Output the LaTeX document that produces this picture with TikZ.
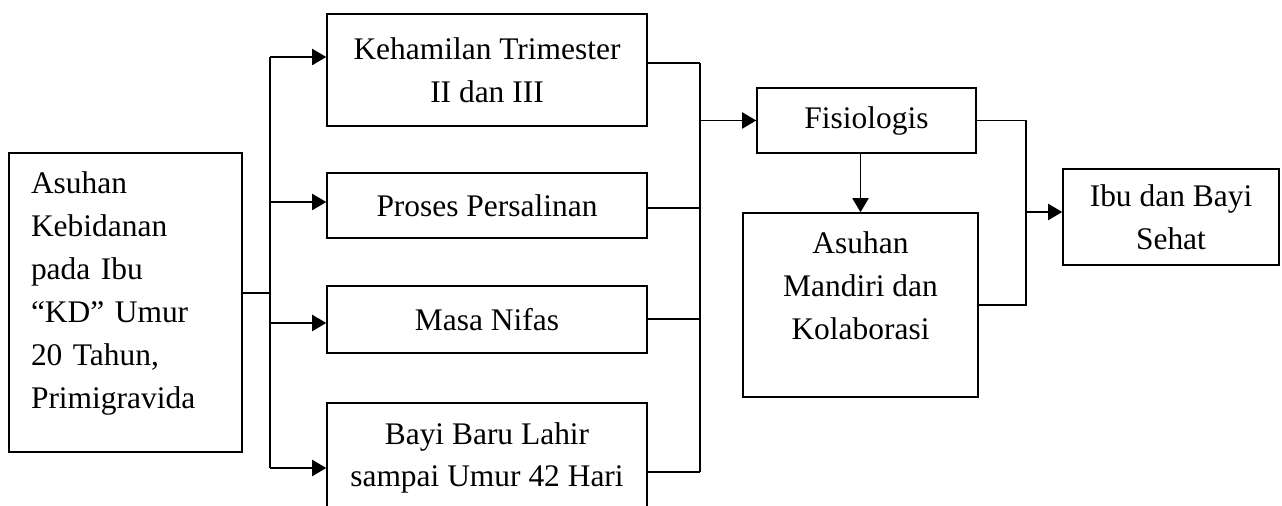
\documentclass[tikz,border=0pt]{standalone}
\usepackage{fontspec}
\setmainfont{Liberation Serif}
\usetikzlibrary{arrows.meta}

\begin{document}
\begin{tikzpicture}[x=0.02cm, y=-0.02cm,
        every node/.style={font=\fontsize{17.9}{24.4}\selectfont},
        box/.style={draw, line width=0.9pt, align=center, inner sep=0pt},
        link/.style={line width=1.1pt},
        arrow/.style={link, -{Triangle[length=0.28cm, width=0.32cm]}}]
        \clip (0,0) rectangle (1282,506);
        \node[box, text width=3.78cm, inner xsep=0.44cm, align=left, minimum height=5.98cm] (ibu) at (125.5,302.5) {Asuhan\\Kebidanan\\pada Ibu\\“KD” Umur\\20 Tahun,\\Primigravida\rule[-0.5cm]{0pt}{0pt}};
        \def \Stages{ 1/70/2.24/{Kehamilan Trimester\\II dan III}, 2/205.5/1.3/Proses Persalinan, 3/319.5/1.34/Masa Nifas, 4/458/2.2/{Bayi Baru Lahir\\sampai Umur 42 Hari}}
        \foreach \id / \y / \h / \t in \Stages{
            \node[box, minimum width=6.4cm, minimum height=\h cm] (s\id) at (487,\y) {\t};
        }
        % left bus
        \coordinate (lbus) at (270,293);
        \draw[link] (ibu.east |- lbus) -- (lbus);
        \foreach \id / \y in {1/57, 2/202, 3/323, 4/468}{
            \coordinate (in\id) at (270,\y);
            \draw[arrow] (in\id) -- (in\id -| s\id.west);
        }
        \draw[link] (in1) -- (in4);
        % right bus
        \foreach \id / \y in {1/63, 2/208, 3/319, 4/472}{
            \coordinate (out\id) at (700,\y);
            \draw[link] (out\id -| s\id.east) -- (out\id);
        }
        \draw[link] (out1) -- (out4);
        \node[box, minimum width=4.38cm, minimum height=1.3cm] (fis) at (866.5,120.5) {Fisiologis};
        \draw[arrow] (fis.west -| out1) -- (fis.west);
        \node[box, minimum width=4.7cm, minimum height=3.68cm] (mandiri) at (860.5,305) {Asuhan\\Mandiri dan\\Kolaborasi\rule[-0.78cm]{0pt}{0pt}};
        \draw[arrow] (fis.south -| mandiri.north) -- (mandiri.north);
        \node[box, minimum width=4.32cm, minimum height=1.92cm] (sehat) at (1171,217) {Ibu dan Bayi\\Sehat};
        \coordinate (rbus) at (1026,212);
        \draw[link] (fis.east) -| (rbus |- mandiri.east) -- (mandiri.east);
        \draw[arrow] (rbus) -- (rbus -| sehat.west);
    \end{tikzpicture}
\end{document}
